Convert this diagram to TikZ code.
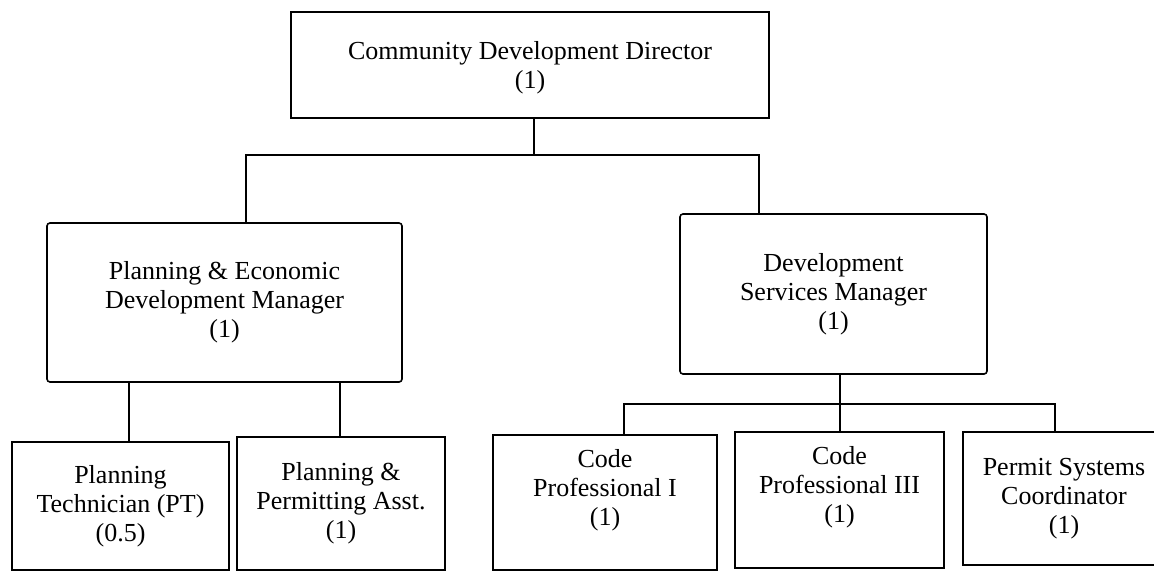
\documentclass[tikz,border=0pt]{standalone}
\usepackage{fontspec}
\setmainfont{Liberation Serif}
\begin{document}
\begin{tikzpicture}[x=1pt,y=1pt,
  box/.style={draw, line width=1.6pt, align=center, inner sep=0pt,
    font=\fontsize{26}{29}\selectfont},
  mgr/.style={box, rounded corners=3pt},
  txt/.style={align=center, inner sep=0pt, font=\fontsize{26}{29}\selectfont},
  wire/.style={line width=1.6pt}]
\useasboundingbox (0,0) rectangle (1154,-573);
\clip (0,0) rectangle (1154,-573);
% top
\node[box, minimum width=478pt, minimum height=106pt,
  label={[txt, yshift=-3pt]center:{Community Development Director\\(1)}}] (dir) at (530,-65) {};
% managers
\node[mgr, minimum width=355pt, minimum height=159pt] (ped) at (224.5,-302.5)
  {Planning \& Economic\\Development Manager\\(1)};
\node[mgr, minimum width=307pt, minimum height=160pt] (dsm) at (833.5,-294)
  {Development\\Services Manager\\(1)};
% bottom left
\node[box, minimum width=217pt, minimum height=128pt] (pt) at (120.5,-506)
  {Planning\\Technician (PT)\\(0.5)};
\node[box, minimum width=208pt, minimum height=133pt] (ppa) at (341,-503.5)
  {Planning \&\\Permitting Asst.\\(1)};
% bottom right
\node[box, minimum width=224pt, minimum height=135pt,
  label={[txt, yshift=12pt]center:{Code\\Professional I\\(1)}}] (cp1) at (605,-502.5) {};
\node[box, minimum width=209pt, minimum height=136pt,
  label={[txt, yshift=13pt]center:{Code\\Professional III\\(1)}}] (cp3) at (839.5,-500) {};
\node[box, minimum width=202pt, minimum height=133pt,
  label={[txt, yshift=0pt]center:{Permit Systems\\Coordinator\\(1)}}] (psc) at (1064,-498.5) {};
% connectors
\coordinate (busL) at (246,-155);
\coordinate (busR) at (759,-155);
\coordinate (busD) at (534,-155);
\draw[wire] (dir.south -| busD) -- (busD);
\draw[wire] (ped.north -| busL) -- (busL) -- (busR) -- (dsm.north -| busR);
\draw[wire] (ped.south -| 129,0) -- (pt.north -| 129,0);
\draw[wire] (ped.south -| 340,0) -- (ppa.north -| 340,0);
\coordinate (bus2L) at (624,-404);
\coordinate (bus2M) at (840,-404);
\coordinate (bus2R) at (1055,-404);
\draw[wire] (dsm.south -| bus2M) -- (bus2M);
\draw[wire] (cp1.north -| bus2L) -- (bus2L) -- (bus2R) -- (psc.north -| bus2R);
\draw[wire] (bus2M) -- (cp3.north -| bus2M);
\end{tikzpicture}
\end{document}
